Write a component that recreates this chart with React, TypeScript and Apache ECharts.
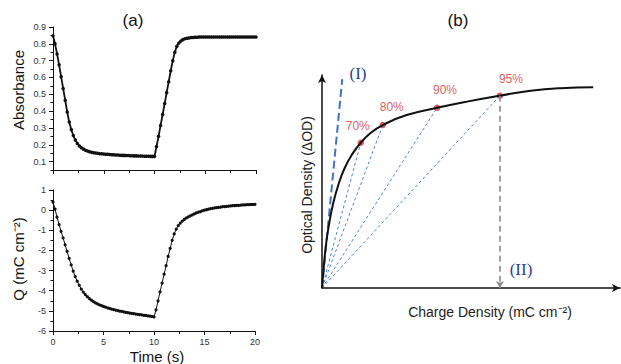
import React, { useEffect, useRef } from "react";
import * as echarts from "echarts";

// ---------- data ----------
const sampleStep = 0.2; // s between recorded samples
const absorbance = [
  0.848, 0.8, 0.74, 0.675, 0.605, 0.535, 0.465, 0.395, 0.335, 0.29,
  0.255, 0.228, 0.208, 0.193, 0.182, 0.174, 0.168, 0.163, 0.159, 0.156,
  0.153, 0.151, 0.149, 0.147, 0.146, 0.145, 0.144, 0.143, 0.142, 0.141,
  0.14, 0.139, 0.139, 0.138, 0.137, 0.137, 0.136, 0.136, 0.135, 0.135,
  0.134, 0.134, 0.133, 0.133, 0.133, 0.132, 0.132, 0.132, 0.131, 0.131,
  0.131,
  0.19, 0.25, 0.315, 0.38, 0.445, 0.51, 0.575, 0.64, 0.7, 0.75,
  0.785, 0.805, 0.817, 0.825, 0.83, 0.833, 0.835, 0.837, 0.838, 0.839,
  0.839,
  0.84, 0.84, 0.84, 0.84, 0.84, 0.84, 0.84, 0.84, 0.84, 0.84,
  0.84, 0.84, 0.84, 0.84, 0.84, 0.84, 0.84, 0.84, 0.84, 0.84,
  0.84, 0.84, 0.84, 0.84, 0.84, 0.84, 0.84, 0.84, 0.84,
];
const charge = [
  0.4, 0.05, -0.35, -0.72, -1.05, -1.38, -1.72, -2.05, -2.4, -2.72,
  -3.03, -3.3, -3.53, -3.73, -3.92, -4.07, -4.19, -4.3, -4.39, -4.47,
  -4.54, -4.6, -4.65, -4.7, -4.74, -4.78, -4.82, -4.85, -4.88, -4.91,
  -4.94, -4.96, -4.99, -5.01, -5.03, -5.05, -5.07, -5.09, -5.11, -5.13,
  -5.14, -5.16, -5.17, -5.19, -5.2, -5.22, -5.23, -5.25, -5.26, -5.28,
  -5.3,
  -4.95, -4.5, -4.06, -3.62, -3.18, -2.76, -2.3, -1.9, -1.5, -1.18,
  -0.94, -0.77, -0.64, -0.54, -0.46, -0.39, -0.33, -0.28, -0.23, -0.19,
  -0.14, -0.1, -0.07, -0.03, 0.0, 0.02, 0.05, 0.07, 0.09, 0.11,
  0.12, 0.14, 0.15, 0.17, 0.18, 0.19, 0.2, 0.21, 0.22, 0.23,
  0.24, 0.24, 0.25, 0.26, 0.26, 0.27, 0.27, 0.28, 0.28, 0.29,
];
const absTicks = [0.1, 0.2, 0.3, 0.4, 0.5, 0.6, 0.7, 0.8, 0.9];

// schematic (b): charge density (x) vs optical density (y), arbitrary units
const odCurve = [
  [0, 0], [0.6, 10], [1.4, 21], [2.5, 31], [3.8, 40], [5.5, 48.5], [7.5, 56],
  [10.0, 62.5], [13.0, 68.2], [16.5, 73.0], [20.4, 76.5], [28.4, 81.2],
  [38.6, 84.6], [48.6, 87.5], [59.7, 90.3], [70.0, 92.6], [80.0, 93.8], [91.0, 94.2],
];
const pctLabels = ["70%", "80%", "90%", "95%"];
const pctX = [13.0, 20.4, 38.6, 59.7];
const pctY = [68.2, 76.5, 84.6, 90.3];
const lineI = [[0, 0], [6.8, 98.1]];

export default function App() {
  const ref = useRef<HTMLDivElement>(null);
  useEffect(() => {
    if (!ref.current) return;
    const chart = echarts.init(ref.current, undefined, { renderer: "svg" });
    const tickFont = { fontFamily: "Liberation Sans", fontSize: 9, color: "#333" };
    const axLine = { show: true, onZero: false, lineStyle: { color: "#111", width: 1 } };
    const absData = absorbance.map((v, i) => [+(i * sampleStep).toFixed(1), v]);
    const qData = charge.map((v, i) => [+(i * sampleStep).toFixed(1), v]);
    const labelOffsets = [[-3, -2], [9, -4], [8, -4], [11, -2]];
    const blueDot = "#4f86d9";
    const arrowLine = { show: true, onZero: false, symbol: ["none", "arrow"], symbolSize: [6, 8], lineStyle: { color: "#111", width: 1.5 } };

    const option: any = {
      animation: false,
      backgroundColor: "#fff",
      grid: [
        { left: 53, top: 27, width: 203, height: 143 },
        { left: 53, top: 190, width: 202, height: 141 },
        { left: 322, top: 75, width: 298, height: 213 },
      ],
      xAxis: [
        {
          type: "value", gridIndex: 0, min: 0, max: 20, interval: 5,
          axisLine: axLine, axisLabel: { show: false },
          axisTick: { show: true, length: 4, lineStyle: { color: "#111" } },
          minorTick: { show: true, splitNumber: 2, length: 3, lineStyle: { color: "#111" } },
          splitLine: { show: false },
        },
        {
          type: "value", gridIndex: 1, min: 0, max: 20, interval: 5,
          axisLine: axLine, axisLabel: { ...tickFont, margin: 6 },
          axisTick: { show: true, length: 4, lineStyle: { color: "#111" } },
          minorTick: { show: true, splitNumber: 2, length: 3, lineStyle: { color: "#111" } },
          splitLine: { show: false },
        },
        {
          type: "value", gridIndex: 2, min: 0, max: 100,
          axisLine: arrowLine,
          axisLabel: { show: false }, axisTick: { show: false }, splitLine: { show: false },
        },
      ],
      yAxis: [
        {
          type: "value", gridIndex: 0, min: 0.05, max: 0.9, interval: 0.05,
          axisLine: axLine,
          axisLabel: { ...tickFont, margin: 7, customValues: absTicks, formatter: (v: number) => v.toFixed(1) },
          axisTick: { show: true, length: 4, customValues: absTicks, lineStyle: { color: "#111" } },
          splitLine: { show: false },
        },
        {
          type: "value", gridIndex: 0, min: 0.05, max: 0.9, interval: 0.05, position: "left",
          axisLine: { show: false }, axisLabel: { show: false },
          axisTick: { show: true, length: 2.5, lineStyle: { color: "#111" } },
          splitLine: { show: false },
        },
        {
          type: "value", gridIndex: 1, min: -6, max: 1, interval: 1,
          axisLine: axLine, axisLabel: { ...tickFont, margin: 7 },
          axisTick: { show: true, length: 4, lineStyle: { color: "#111" } },
          minorTick: { show: true, splitNumber: 2, length: 2.5, lineStyle: { color: "#111" } },
          splitLine: { show: false },
        },
        {
          type: "value", gridIndex: 2, min: 0, max: 100,
          axisLine: arrowLine,
          axisLabel: { show: false }, axisTick: { show: false }, splitLine: { show: false },
        },
      ],
      series: [
        {
          type: "line", xAxisIndex: 0, yAxisIndex: 0, data: absData,
          symbol: "circle", symbolSize: 3.5, showAllSymbol: true,
          lineStyle: { color: "#111", width: 1.8 }, itemStyle: { color: "#111" },
        },
        {
          type: "line", xAxisIndex: 1, yAxisIndex: 2, data: qData,
          symbol: "circle", symbolSize: 3.2, showAllSymbol: true,
          lineStyle: { color: "#111", width: 1 }, itemStyle: { color: "#111" },
        },
        ...pctX.map((x, i) => ({
          type: "line", xAxisIndex: 2, yAxisIndex: 3,
          data: [[0, 0], [x, pctY[i]]], symbol: "none",
          lineStyle: { color: blueDot, width: 1, type: [3, 2.5] },
        })),
        {
          type: "line", xAxisIndex: 2, yAxisIndex: 3, data: lineI, symbol: "none",
          lineStyle: { color: "#3f73c8", width: 2, type: [8, 4] },
        },
        {
          type: "line", xAxisIndex: 2, yAxisIndex: 3, data: odCurve, symbol: "none",
          smooth: true,
          lineStyle: { color: "#111", width: 2 },
        },
        {
          type: "scatter", xAxisIndex: 2, yAxisIndex: 3,
          symbolSize: 6.5, itemStyle: { color: "#d8302f" },
          data: pctX.map((x, i) => ({
            value: [x, pctY[i]],
            label: {
              show: true, formatter: pctLabels[i], position: "top", offset: labelOffsets[i],
              color: "#d8302f", fontFamily: "Liberation Sans", fontSize: 12,
            },
          })),
          markLine: {
            silent: true, symbol: ["none", "arrow"], symbolSize: [6, 7],
            label: { show: false },
            lineStyle: { color: "#8a8a8a", width: 1.6, type: [6, 4] },
            data: [[{ coord: [pctX[3], pctY[3]] }, { coord: [pctX[3], 0] }]],
          },
        },
      ],
      graphic: [
        { type: "text", x: 133, y: 20, style: { text: "(a)", fontFamily: "Liberation Sans", fontSize: 17, fill: "#111", align: "center", verticalAlign: "middle" } },
        { type: "text", x: 458, y: 20, style: { text: "(b)", fontFamily: "Liberation Sans", fontSize: 17, fill: "#111", align: "center", verticalAlign: "middle" } },
        { type: "text", x: 18, y: 90, rotation: Math.PI / 2, style: { text: "Absorbance", fontFamily: "Liberation Sans", fontSize: 15, fill: "#111", align: "center", verticalAlign: "middle" } },
        { type: "text", x: 18, y: 259, rotation: Math.PI / 2, style: { text: "Q (mC cm⁻²)", fontFamily: "Liberation Sans", fontSize: 15, fill: "#111", align: "center", verticalAlign: "middle" } },
        { type: "text", x: 157, y: 356, style: { text: "Time (s)", fontFamily: "Liberation Sans", fontSize: 15, fill: "#111", align: "center", verticalAlign: "middle" } },
        { type: "text", x: 490, y: 312, style: { text: "Charge Density (mC cm⁻²)", fontFamily: "Liberation Sans", fontSize: 14, fill: "#222", align: "center", verticalAlign: "middle" } },
        { type: "text", x: 307, y: 185, rotation: Math.PI / 2, style: { text: "Optical Density (ΔOD)", fontFamily: "Liberation Sans", fontSize: 14, fill: "#222", align: "center", verticalAlign: "middle" } },
        { type: "text", x: 358, y: 73, style: { text: "(I)", fontFamily: "Liberation Serif", fontSize: 17, fill: "#2f3f8f", align: "center", verticalAlign: "middle" } },
        { type: "text", x: 521, y: 269, style: { text: "(II)", fontFamily: "Liberation Serif", fontSize: 17, fill: "#2f3f8f", align: "center", verticalAlign: "middle" } },
      ],
    };
    chart.setOption(option);
    return () => chart.dispose();
  }, []);
  return (
    <div
      ref={ref}
      style={{ position: "fixed", left: 0, top: 0, width: 621, height: 364, background: "#fff" }}
    />
  );
}
